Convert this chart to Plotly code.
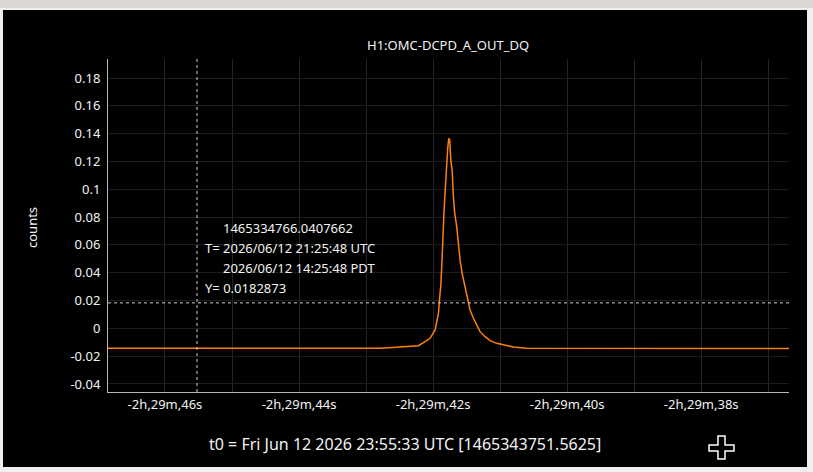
import plotly.graph_objects as go

# seconds relative to t0
times = [-8986.85, -8982.791, -8982.552, -8982.328, -8982.219, -8982.144, -8982.045,
         -8981.970, -8981.945, -8981.920, -8981.905, -8981.886, -8981.871, -8981.856,
         -8981.836, -8981.816, -8981.796, -8981.781, -8981.766, -8981.751, -8981.736,
         -8981.716, -8981.697, -8981.677, -8981.647, -8981.622, -8981.597, -8981.567,
         -8981.537, -8981.507, -8981.478, -8981.448, -8981.398, -8981.348, -8981.299,
         -8981.224, -8981.149, -8981.050, -8980.900, -8980.801, -8980.602, -8976.69]
counts = [-0.0143, -0.0143, -0.0136, -0.0131, -0.0125, -0.0103, -0.0072,
          -0.0012, 0.0038, 0.0108, 0.0204, 0.030, 0.044, 0.066,
          0.085, 0.102, 0.1235, 0.130, 0.1367, 0.135, 0.121,
          0.114, 0.0947, 0.0827, 0.073, 0.0587, 0.049, 0.0396,
          0.0324, 0.0252, 0.0192, 0.0132, 0.0072, 0.0024, -0.0024,
          -0.006, -0.0089, -0.0108, -0.0125, -0.0135, -0.0144, -0.0145]

xtickvals = [-8986, -8984, -8982, -8980, -8978]
xticktext = ['-2h,29m,46s', '-2h,29m,44s', '-2h,29m,42s', '-2h,29m,40s', '-2h,29m,38s']
ytickvals = [-0.04, -0.02, 0, 0.02, 0.04, 0.06, 0.08, 0.1, 0.12, 0.14, 0.16, 0.18]
yticktext = ['-0.04', '-0.02', '0', '0.02', '0.04', '0.06', '0.08', '0.1', '0.12', '0.14', '0.16', '0.18']

cursor_t = -8985.5217
cursor_y = 0.0182873
cursor_lines = ['1465334766.0407662', 'T= 2026/06/12 21:25:48 UTC',
                '2026/06/12 14:25:48 PDT', 'Y= 0.0182873']
title = 'H1:OMC-DCPD_A_OUT_DQ'
t0_text = 't0 = Fri Jun 12 2026 23:55:33 UTC [1465343751.5625]'

FONT = 'Noto Sans'
L, R, T, B = 108, 789, 59, 392


def px(x):
    return (x - L) / (R - L)


def py(y):
    return (B - y) / (B - T)


fig = go.Figure()
fig.add_trace(go.Scatter(x=times, y=counts, mode='lines',
                         line=dict(color='#ff8010', width=1.5), showlegend=False))

# cursor
fig.add_shape(type='line', xref='x', yref='paper', x0=cursor_t, x1=cursor_t, y0=0, y1=1,
              line=dict(color='#cfcfcf', width=1, dash='dot'))
fig.add_shape(type='line', xref='paper', yref='y', x0=0, x1=1, y0=cursor_y, y1=cursor_y,
              line=dict(color='#cfcfcf', width=1, dash='dot'))

# window pieces
fig.add_shape(type='rect', xref='paper', yref='paper', x0=px(0), x1=px(813), y0=py(0), y1=py(8),
              fillcolor='#dad7d3', line_width=0, layer='below')
fig.add_shape(type='rect', xref='paper', yref='paper', x0=px(3), x1=px(807), y0=py(10), y1=py(467),
              fillcolor='#000000', line_width=0, layer='below')

# crosshair icon
pts = [(718, 436), (725, 436), (725, 445), (734, 445), (734, 451), (725, 451), (725, 459),
       (718, 459), (718, 451), (709, 451), (709, 445), (718, 445)]
path = 'M ' + ' L '.join('%f,%f' % (px(a), py(b)) for a, b in pts) + ' Z'
fig.add_shape(type='path', xref='paper', yref='paper', path=path,
              line=dict(color='#ffffff', width=1.5))

anns = [(220.5, 228, cursor_lines[0]), (203, 248, cursor_lines[1]),
        (220.5, 268, cursor_lines[2]), (203, 288, cursor_lines[3])]
for x, y, txt in anns:
    fig.add_annotation(x=px(x), y=py(y), xref='paper', yref='paper', text=txt, showarrow=False,
                       xanchor='left', yanchor='middle', font=dict(family=FONT, size=13, color='#f2f2f2'))

fig.add_annotation(x=px(448), y=py(45), xref='paper', yref='paper', text=title, showarrow=False,
                   xanchor='center', yanchor='middle', font=dict(family=FONT, size=13, color='#f2f2f2'))
fig.add_annotation(x=px(32), y=py(228), xref='paper', yref='paper', text='counts', showarrow=False,
                   textangle=-90, xanchor='center', yanchor='middle',
                   font=dict(family=FONT, size=13, color='#f2f2f2'))
fig.add_annotation(x=px(405), y=py(444), xref='paper', yref='paper', text=t0_text, showarrow=False,
                   xanchor='center', yanchor='middle', font=dict(family=FONT, size=16, color='#f2f2f2'))

fig.update_layout(
    width=813, height=472,
    margin=dict(l=L, r=813 - R, t=T, b=472 - B),
    paper_bgcolor='#efefef', plot_bgcolor='#000000',
    font=dict(family=FONT, size=13, color='#f2f2f2'),
    xaxis=dict(range=[-8986.85, -8976.69], tickmode='array', tickvals=xtickvals, ticktext=xticktext,
               showgrid=True, gridcolor='#242424', gridwidth=1, zeroline=False,
               showline=True, linecolor='#b8b8b8', linewidth=1, ticks='',
               minor=dict(tick0=-8986, dtick=1, showgrid=True, gridcolor='#242424', gridwidth=1),
               tickfont=dict(family=FONT, size=13, color='#f2f2f2'), fixedrange=True),
    yaxis=dict(range=[-0.0458, 0.1937], tickmode='array', tickvals=ytickvals, ticktext=yticktext,
               showgrid=True, gridcolor='#1c1c1c', gridwidth=1, zeroline=False,
               showline=True, linecolor='#b8b8b8', linewidth=1, ticks='', ticklabelstandoff=4,
               tickfont=dict(family=FONT, size=13, color='#f2f2f2'), fixedrange=True),
)

fig.write_html('out.html', post_script="document.body.style.margin='0';",
               config={'displayModeBar': False})
